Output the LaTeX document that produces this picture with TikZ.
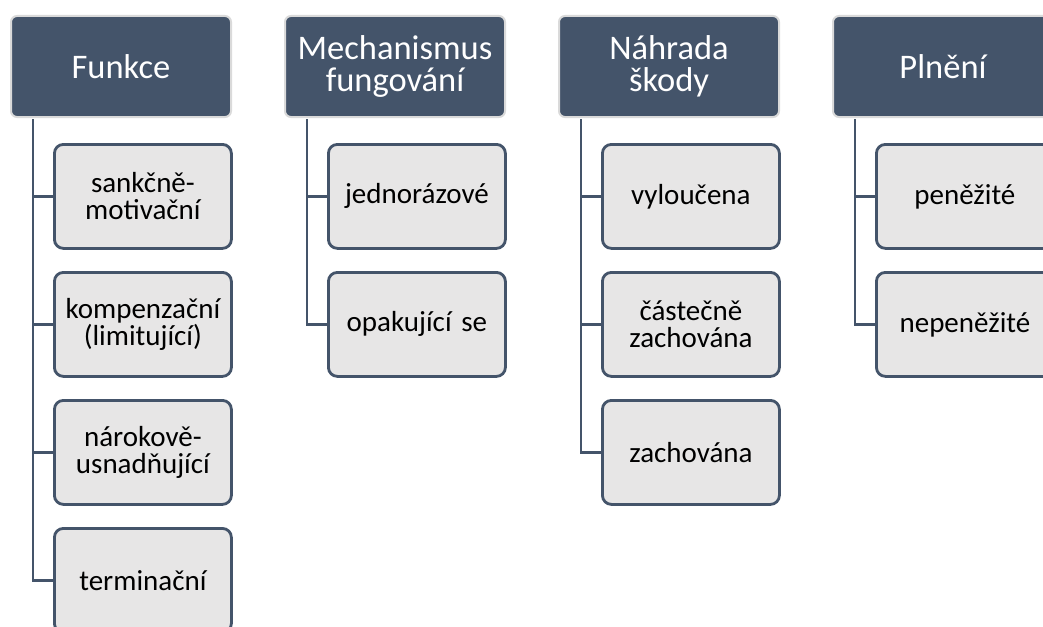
\documentclass[tikz,border=0pt]{standalone}
\usepackage{fontspec}
\setmainfont{Carlito}
\definecolor{hdr}{HTML}{44546A}
\definecolor{chf}{HTML}{E7E6E6}
\definecolor{hbd}{HTML}{DADADA}
\begin{document}
\begin{tikzpicture}[x=1pt,y=-1pt,
  header/.style={rectangle, rounded corners=6pt, fill=hdr, draw=hbd, line width=2pt,
    minimum width=220pt, minimum height=101pt, text width=218pt, align=center,
    text=white, font=\fontsize{34.5}{32}\selectfont, inner sep=0pt, anchor=north west},
  child/.style={rectangle, rounded corners=9pt, fill=chf, draw=hdr, line width=2.8pt,
    minimum width=177pt, minimum height=104pt, text width=176pt, align=center,
    text=black, font=\fontsize{29}{27}\selectfont, inner sep=0pt, anchor=north west},
  conn/.style={draw=hdr, line width=2.8pt}]
\useasboundingbox (0,0) rectangle (1043,626);
\clip (0,0) rectangle (1043,626);
\path (10,15) coordinate (p1) (284,15) coordinate (p2) (558,15) coordinate (p3) (832,15) coordinate (p4);
% Column 1
\node[header] (h1) at (p1) {Funkce};
\node[child] (c11) at (53,143) {sankčně-\\motivační};
\node[child] (c12) at (53,271) {kompenzační\\(limitující)};
\node[child] (c13) at (53,399) {nárokově-\\usnadňující};
\node[child] (c14) at (53,527) {terminační};
% Column 2
\node[header] (h2) at (p2) {Mechanismus\\fungování};
\node[child] (c21) at (327,143) {jednorázové};
\node[child] (c22) at (327,271) {opakující se};
% Column 3
\node[header] (h3) at (p3) {Náhrada\\škody};
\node[child] (c31) at (601,143) {vyloučena};
\node[child] (c32) at (601,271) {částečně\\zachována};
\node[child] (c33) at (601,399) {zachována};
% Column 4
\node[header] (h4) at (p4) {Plnění};
\node[child] (c41) at (875,143) {peněžité};
\node[child] (c42) at (875,271) {nepeněžité};
% Connectors
\foreach \c in {c11,c12,c13,c14}{\draw[conn] ([xshift=23pt,yshift=-1pt]h1.south west) |- (\c.west);}
\foreach \c in {c21,c22}{\draw[conn] ([xshift=23pt,yshift=-1pt]h2.south west) |- (\c.west);}
\foreach \c in {c31,c32,c33}{\draw[conn] ([xshift=23pt,yshift=-1pt]h3.south west) |- (\c.west);}
\foreach \c in {c41,c42}{\draw[conn] ([xshift=23pt,yshift=-1pt]h4.south west) |- (\c.west);}
\end{tikzpicture}
\end{document}
